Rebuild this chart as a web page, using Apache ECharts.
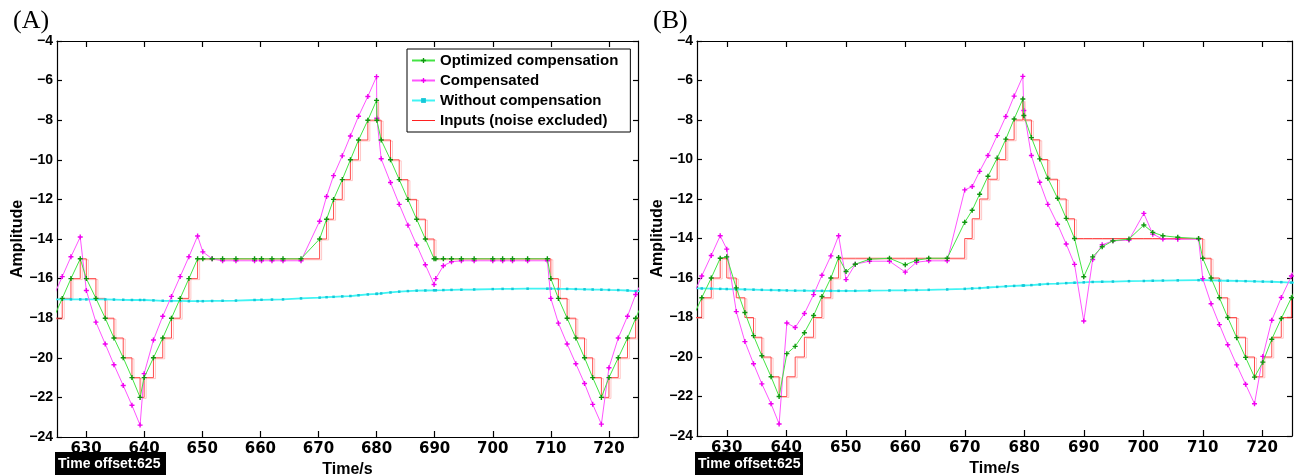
<!DOCTYPE html>
<html>
<head>
<meta charset="utf-8">
<script src="https://cdn.jsdelivr.net/npm/echarts@6/dist/echarts.min.js"></script>
<style>
html,body{margin:0;padding:0;background:#fff;}
#chart{width:1295px;height:475px;}
</style>
</head>
<body>
<div id="chart"></div>
<script>
// ---------- DATA ----------
const xTicks = [630, 640, 650, 660, 670, 680, 690, 700, 710, 720];
const yTicks = [-24, -22, -20, -18, -16, -14, -12, -10, -8, -6, -4];
const seriesNames = ['Optimized compensation', 'Compensated', 'Without compensation', 'Inputs (noise excluded)'];
const panelTitles = ['(A)', '(B)'];
const offsetLabel = 'Time offset:625';

// Panel A
const timeA = [624.4, 625.9, 627.4, 629.0, 630.05, 631.7, 633.3, 634.8, 636.4, 637.9, 639.3, 640.0, 641.6, 643.2, 644.7, 646.2, 647.7, 649.2, 650.1, 651.7, 653.5, 655.8, 659.0, 660.2, 662.0, 663.9, 667.0, 670.2, 671.4, 672.6, 674.1, 675.5, 676.9, 678.5, 680.0, 680.05, 680.8, 682.4, 683.9, 685.4, 686.9, 688.4, 689.9, 690.2, 691.5, 692.9, 694.6, 696.8, 700.0, 701.7, 703.4, 706.0, 709.4, 710.0, 711.3, 712.8, 714.3, 715.8, 717.2, 718.7, 720.0, 721.6, 723.2, 724.6, 726.1];
const optimizedA = [-18, -17, -16, -15, -16, -17, -18, -19, -20, -21, -22, -21, -20, -19, -18, -17, -16, -15, -15, -15, -15, -15, -15, -15, -15, -15, -15, -14, -13, -12, -11, -10, -9, -8, -7, -8, -9, -10, -11, -12, -13, -14, -15, -15, -15, -15, -15, -15, -15, -15, -15, -15, -15, -16, -17, -18, -19, -20, -21, -22, -21, -20, -19, -18, -17];
const compensatedA = [-16.9, -15.9, -14.9, -13.9, -16.6, -18.2, -19.3, -20.35, -21.4, -22.4, -23.4, -20.8, -19.1, -17.9, -16.9, -15.9, -14.9, -13.85, -14.65, -15.0, -15.1, -15.1, -15.1, -15.1, -15.1, -15.1, -15.1, -13.1, -11.85, -10.8, -9.8, -8.8, -7.8, -6.8, -5.8, -7.9, -9.95, -11.15, -12.25, -13.3, -14.3, -15.3, -16.3, -16.0, -15.35, -15.15, -15.1, -15.1, -15.1, -15.1, -15.1, -15.1, -15.1, -17.0, -18.25, -19.3, -20.3, -21.3, -22.35, -23.35, -20.5, -19.0, -17.9, -16.8, -15.9];
const withoutA = [-17.05, -17.05, -17.05, -17.05, -17.05, -17.05, -17.05, -17.06, -17.07, -17.08, -17.08, -17.08, -17.1, -17.12, -17.13, -17.13, -17.14, -17.14, -17.14, -17.13, -17.12, -17.11, -17.08, -17.07, -17.06, -17.05, -17.0, -16.96, -16.94, -16.92, -16.9, -16.88, -16.84, -16.8, -16.77, -16.77, -16.75, -16.7, -16.66, -16.63, -16.61, -16.6, -16.59, -16.59, -16.58, -16.57, -16.56, -16.55, -16.53, -16.52, -16.52, -16.51, -16.51, -16.51, -16.52, -16.52, -16.53, -16.54, -16.55, -16.56, -16.57, -16.58, -16.6, -16.63, -16.66];
const inputsA = [-18, -17, -16, -15, -16, -17, -18, -19, -20, -21, -22, -21, -20, -19, -18, -17, -16, -15, -15, -15, -15, -15, -15, -15, -15, -15, -15, -14, -13, -12, -11, -10, -9, -8, -7, -8, -9, -10, -11, -12, -13, -14, -15, -15, -15, -15, -15, -15, -15, -15, -15, -15, -15, -16, -17, -18, -19, -20, -21, -22, -21, -20, -19, -18, -17];

// Panel B
const timeB = [624.3, 625.8, 627.4, 628.9, 630.0, 631.6, 633.05, 634.5, 635.9, 637.45, 638.8, 640.1, 641.5, 643.05, 644.6, 646.0, 647.5, 648.8, 650.05, 651.6, 654.0, 657.35, 660.0, 661.9, 663.95, 667.05, 670.0, 671.25, 672.5, 673.9, 675.45, 676.9, 678.3, 679.76, 679.93, 681.2, 682.6, 683.96, 685.6, 687.05, 688.45, 690.0, 691.5, 693.1, 694.9, 697.6, 700.1, 701.6, 703.3, 705.8, 709.3, 710.0, 711.4, 712.8, 714.2, 715.7, 717.2, 718.7, 720.1, 721.6, 723.2, 724.9, 726.4];
const optimizedB = [-18, -17, -16, -15, -14.93, -16.5, -17.75, -18.92, -19.94, -21.0, -22.0, -19.83, -19.46, -18.77, -17.9, -16.94, -16.0, -14.96, -15.67, -15.3, -15.05, -15.0, -15.33, -15.1, -15.0, -15.0, -13.18, -12.57, -11.76, -10.85, -9.93, -8.97, -7.95, -6.94, -7.77, -8.89, -9.97, -10.95, -11.96, -12.98, -14.0, -15.94, -14.93, -14.42, -14.12, -14.03, -13.32, -13.69, -13.86, -13.94, -14.0, -15.0, -16.0, -17.0, -18.0, -19.02, -20.02, -21.02, -20.26, -19.1, -18.05, -17.0, -16.0];
const compensatedB = [-16.9, -15.9, -14.86, -13.86, -14.54, -17.7, -19.22, -20.34, -21.36, -22.37, -23.39, -18.28, -18.51, -17.8, -16.84, -15.86, -14.88, -13.86, -16.08, -15.3, -15.15, -15.15, -15.7, -15.2, -15.13, -15.13, -11.54, -11.37, -10.6, -9.8, -8.79, -7.82, -6.79, -5.79, -7.52, -9.8, -11.15, -12.27, -13.28, -14.28, -15.31, -18.18, -15.06, -14.32, -14.12, -14.08, -12.73, -13.78, -14.03, -14.04, -14.03, -16.03, -17.3, -18.36, -19.38, -20.4, -21.38, -22.37, -19.97, -18.14, -16.99, -15.9, -14.9];
const withoutB = [-16.52, -16.53, -16.54, -16.55, -16.56, -16.57, -16.58, -16.59, -16.6, -16.61, -16.62, -16.63, -16.64, -16.64, -16.65, -16.65, -16.65, -16.65, -16.65, -16.65, -16.64, -16.63, -16.62, -16.61, -16.6, -16.58, -16.55, -16.53, -16.51, -16.48, -16.45, -16.42, -16.4, -16.38, -16.38, -16.36, -16.33, -16.3, -16.28, -16.26, -16.24, -16.22, -16.2, -16.19, -16.18, -16.16, -16.15, -16.14, -16.13, -16.12, -16.11, -16.11, -16.12, -16.13, -16.14, -16.15, -16.16, -16.17, -16.18, -16.19, -16.21, -16.23, -16.25];
const inputsB = [-18, -17, -16, -15, -16, -17, -18, -19, -20, -21, -22, -21, -20, -19, -18, -17, -16, -15, -15, -15, -15, -15, -15, -15, -15, -15, -14, -13, -12, -11, -10, -9, -8, -7, -8, -9, -10, -11, -12, -13, -14, -14, -14, -14, -14, -14, -14, -14, -14, -14, -14, -15, -16, -17, -18, -19, -20, -21, -20, -19, -18, -17, -16];

// ---------- CHART ----------
const chart = echarts.init(document.getElementById('chart'), null, {renderer: 'canvas'});
const pair = (t, v) => t.map((x, i) => [x, v[i]]);
const PLUS = 'path://M3.6,0H6.4V3.6H10V6.4H6.4V10H3.6V6.4H0V3.6H3.6Z';
const grids = [
  {left: 57, top: 41, width: 581, height: 396, outerBoundsMode: 'none', containLabel: false},
  {left: 697, top: 41, width: 595, height: 395, outerBoundsMode: 'none', containLabel: false}
];
const fmtY = v => (v < 0 ? '\u2212' + Math.abs(v) : String(v));

const xAxes = [], yAxes = [];
grids.forEach((g, gi) => {
  xAxes.push({
    type: 'value', gridIndex: gi, min: 625, max: 725, position: 'bottom',
    name: 'Time/s', nameLocation: 'middle', nameGap: 21,
    nameTextStyle: {fontFamily: 'Liberation Sans', fontWeight: 'bold', fontSize: 16, color: '#000'},
    axisLine: {show: true, onZero: false, lineStyle: {color: '#000', width: 1.2}},
    axisTick: {show: true, inside: true, length: 6, customValues: xTicks, lineStyle: {color: '#000', width: 1.2}},
    axisLabel: {show: true, customValues: xTicks, margin: 5, fontFamily: 'DejaVu Sans', fontWeight: 'bold', fontSize: 15, color: '#000'},
    splitLine: {show: false}
  });
  xAxes.push({
    type: 'value', gridIndex: gi, min: 625, max: 725, position: 'top',
    axisLine: {show: true, onZero: false, lineStyle: {color: '#000', width: 1.2}},
    axisTick: {show: true, inside: true, length: 6, customValues: xTicks, lineStyle: {color: '#000', width: 1.2}},
    axisLabel: {show: false}, splitLine: {show: false}
  });
  yAxes.push({
    type: 'value', gridIndex: gi, min: -24, max: -4, interval: 2, position: 'left',
    name: 'Amplitude', nameLocation: 'middle', nameGap: 31,
    nameTextStyle: {fontFamily: 'Liberation Sans', fontWeight: 'bold', fontSize: 16, color: '#000'},
    axisLine: {show: true, onZero: false, lineStyle: {color: '#000', width: 1.2}},
    axisTick: {show: true, inside: true, length: 5, lineStyle: {color: '#000', width: 1.2}},
    axisLabel: {show: true, margin: 4, formatter: fmtY, fontFamily: 'Liberation Sans', fontWeight: 'bold', fontSize: 14, color: '#000'},
    splitLine: {show: false}
  });
  yAxes.push({
    type: 'value', gridIndex: gi, min: -24, max: -4, interval: 2, position: 'right',
    axisLine: {show: true, onZero: false, lineStyle: {color: '#000', width: 1.2}},
    axisTick: {show: true, inside: true, length: 5, lineStyle: {color: '#000', width: 1.2}},
    axisLabel: {show: false}, splitLine: {show: false}
  });
});

function panelSeries(gi, t, opt, comp, wo, inp) {
  const xi = gi * 2, yi = gi * 2;
  return [
    {
      name: seriesNames[3], type: 'line', xAxisIndex: xi, yAxisIndex: yi, step: 'end',
      data: pair(t, inp), showSymbol: false, symbol: 'none', z: 2,
      lineStyle: {color: '#ff3b3b', width: 1, opacity: 0.9, shadowColor: 'rgba(255,120,120,0.45)', shadowOffsetX: 2, shadowOffsetY: 1, shadowBlur: 0},
      itemStyle: {color: '#ff2020'}, animation: false
    },
    {
      name: seriesNames[2], type: 'line', xAxisIndex: xi, yAxisIndex: yi,
      data: pair(t, wo), symbol: 'rect', symbolSize: 2.5, z: 3,
      lineStyle: {color: '#40f4f4', width: 1.8}, itemStyle: {color: '#14c8d8'}, animation: false
    },
    {
      name: seriesNames[1], type: 'line', xAxisIndex: xi, yAxisIndex: yi,
      data: pair(t, comp), symbol: PLUS, symbolSize: 5, z: 4,
      lineStyle: {color: '#ff55ff', width: 1}, itemStyle: {color: '#f000f0'}, animation: false
    },
    {
      name: seriesNames[0], type: 'line', xAxisIndex: xi, yAxisIndex: yi,
      data: pair(t, opt), symbol: PLUS, symbolSize: 5, z: 5,
      lineStyle: {color: '#44e444', width: 1}, itemStyle: {color: '#0f960f'}, animation: false
    }
  ];
}

const labelFont = {fontFamily: 'Liberation Sans', fontWeight: 'bold', fontSize: 14, fill: '#fff'};
const graphics = [];
panelTitles.forEach((title, gi) => {
  const g = grids[gi];
  graphics.push({type: 'text', left: g.left - 44, top: 8, style: {text: title, fontFamily: 'Liberation Serif', fontSize: 26, fill: '#000'}});
  const bw = gi === 0 ? 111 : 108;
  graphics.push({type: 'rect', left: g.left - 2, top: 452, shape: {width: bw, height: 23}, style: {fill: '#000'}});
  graphics.push({type: 'text', left: g.left + 1, top: 457, style: Object.assign({text: offsetLabel}, labelFont)});
});

const LINE_ONLY = 'path://M0,0H0.01V0.01H0Z M0,2.5H23V3.5H0Z M22.99,5.99H23V6H22.99Z';
chart.setOption({
  backgroundColor: '#fff',
  animation: false,
  grid: grids,
  xAxis: xAxes,
  yAxis: yAxes,
  legend: {
    data: [
      {name: seriesNames[0]},
      {name: seriesNames[1]},
      {name: seriesNames[2]},
      {name: seriesNames[3], icon: LINE_ONLY}
    ],
    orient: 'vertical', left: 407, top: 49,
    backgroundColor: '#fff', borderColor: '#000', borderWidth: 1,
    padding: [4, 12, 4, 4], itemGap: 5, itemWidth: 23, itemHeight: 6,
    textStyle: {fontFamily: 'Liberation Sans', fontWeight: 'bold', fontSize: 15, color: '#000', lineHeight: 14},
    selectedMode: false
  },
  graphic: graphics,
  series: [].concat(
    panelSeries(0, timeA, optimizedA, compensatedA, withoutA, inputsA),
    panelSeries(1, timeB, optimizedB, compensatedB, withoutB, inputsB)
  )
});
</script>
</body>
</html>
